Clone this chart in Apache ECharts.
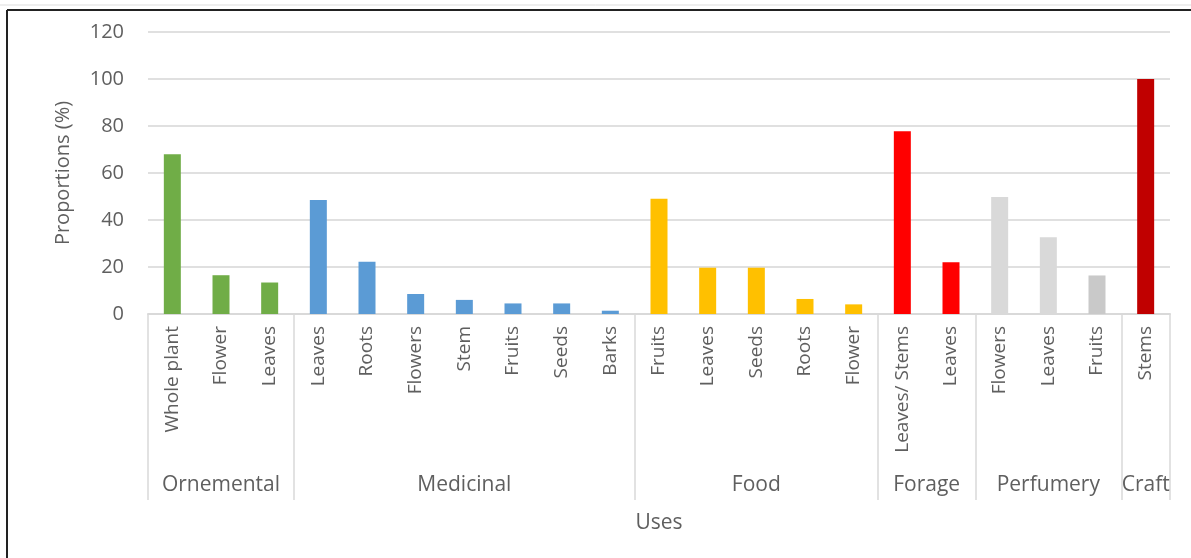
<!DOCTYPE html>
<html>
<head>
<meta charset="utf-8">
<title>Plant parts by use</title>
<script src="https://cdn.jsdelivr.net/npm/echarts@6/dist/echarts.min.js"></script>
<style>
  html, body { margin: 0; padding: 0; background: #fff; }
  #chart { width: 1191px; height: 558px; }
</style>
</head>
<body>
<div id="chart"></div>
<script>
// Plant parts (sub-categories) and their use groups
const parts = [
  'Whole plant', 'Flower', 'Leaves',
  'Leaves', 'Roots', 'Flowers', 'Stem', 'Fruits', 'Seeds', 'Barks',
  'Fruits', 'Leaves', 'Seeds', 'Roots', 'Flower',
  'Leaves/ Stems', 'Leaves',
  'Flowers', 'Leaves', 'Fruits',
  'Stems'
];
const groups = ['Ornemental', 'Medicinal', 'Food', 'Forage', 'Perfumery', 'Craft'];
const groupSizes = [3, 7, 5, 2, 3, 1];

// Proportions (%) for each plant part, in the order above
const proportions = [
  68, 16.5, 13.4,
  48.5, 22.2, 8.5, 6, 4.5, 4.5, 1.4,
  49, 19.7, 19.7, 6.4, 4.1,
  77.8, 22,
  49.8, 32.7, 16.4,
  100
];

// Bar colours: one per group, with the last perfumery bar a shade darker
const groupColors = ['#70AD47', '#5B9BD5', '#FFC000', '#FF0000', '#D9D9D9', '#C00000'];
const colorOverrides = { 19: '#C9C9C9' };

const yTicks = { min: 0, max: 120, interval: 20 };

// Group boundaries and centres on a 0..N value scale laid over the categories
const boundaries = [0];
groupSizes.forEach(n => boundaries.push(boundaries[boundaries.length - 1] + n));
const centres = groupSizes.map((n, i) => boundaries[i] + n / 2);
const barColors = [];
groupSizes.forEach((n, g) => { for (let k = 0; k < n; k++) barColors.push(groupColors[g]); });
Object.keys(colorOverrides).forEach(i => { barColors[i] = colorOverrides[i]; });

const textColor = '#5f5f5f';
const lineColor = '#D9D9D9';
const font = '"Open Sans", "Noto Sans", sans-serif';

const chart = echarts.init(document.getElementById('chart'), null, { renderer: 'canvas' });

chart.setOption({
  animation: false,
  backgroundColor: '#ffffff',
  grid: { left: 148, right: 21, top: 32, bottom: 244, containLabel: false },
  xAxis: [
    {
      type: 'category',
      data: parts,
      position: 'bottom',
      axisLine: { show: true, lineStyle: { color: lineColor, width: 2 } },
      axisTick: { show: false },
      axisLabel: {
        rotate: 90,
        interval: 0,
        margin: 12,
        color: textColor,
        fontFamily: font,
        fontSize: 19
      },
      splitLine: { show: false }
    },
    {
      type: 'value',
      min: 0,
      max: parts.length,
      position: 'bottom',
      axisLine: { show: false },
      axisTick: {
        show: true,
        customValues: boundaries,
        length: 186,
        lineStyle: { color: lineColor, width: 1.5 }
      },
      axisLabel: {
        show: true,
        customValues: centres,
        margin: 161,
        color: textColor,
        fontFamily: font,
        fontSize: 21,
        formatter: v => {
          const i = centres.findIndex(c => Math.abs(c - v) < 1e-6);
          return i >= 0 ? groups[i] : '';
        }
      },
      splitLine: { show: false },
      name: 'Uses',
      nameLocation: 'middle',
      nameGap: 199,
      nameTextStyle: { color: textColor, fontFamily: font, fontSize: 21 }
    }
  ],
  yAxis: {
    type: 'value',
    min: yTicks.min,
    max: yTicks.max,
    interval: yTicks.interval,
    axisLine: { show: false },
    axisTick: { show: false },
    axisLabel: {
      margin: 24,
      color: textColor,
      fontFamily: font,
      fontSize: 20
    },
    splitLine: { show: true, lineStyle: { color: '#E0E0E0', width: 2 } },
    name: 'Proportions (%)',
    nameLocation: 'middle',
    nameGap: 75,
    nameTextStyle: { color: textColor, fontFamily: font, fontSize: 20 }
  },
  series: [
    {
      type: 'bar',
      xAxisIndex: 0,
      barWidth: 17,
      data: proportions.map((v, i) => ({ value: v, itemStyle: { color: barColors[i] } })),
      itemStyle: { borderWidth: 0 },
      silent: true
    }
  ],
  graphic: [
    // Outer frame: top and left edges
    { type: 'line', shape: { x1: 7, y1: 10, x2: 1191, y2: 10 }, style: { stroke: '#222', lineWidth: 2 } },
    { type: 'line', shape: { x1: 0, y1: 5, x2: 1191, y2: 5 }, style: { stroke: '#ddd', lineWidth: 1 } },
    { type: 'line', shape: { x1: 7, y1: 10, x2: 7, y2: 558 }, style: { stroke: '#222', lineWidth: 2 } }
  ]
});
</script>
</body>
</html>
